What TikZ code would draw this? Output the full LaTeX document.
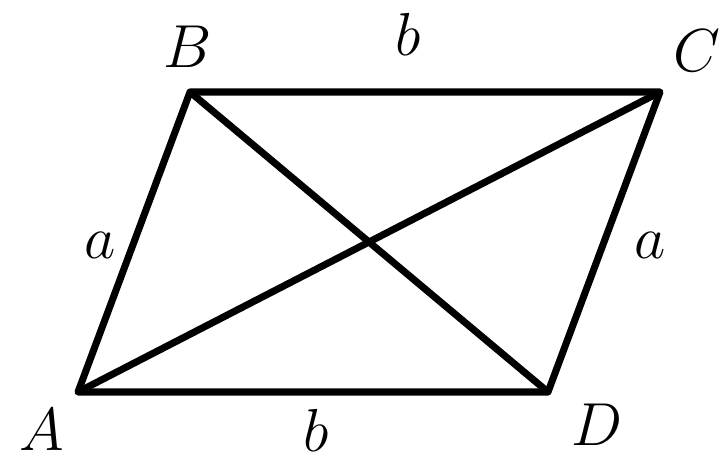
\documentclass[tikz,border=0pt]{standalone}
\usepackage{amsmath}
\begin{document}
\begin{tikzpicture}[line width=2pt,line join=round,font=\fontsize{18}{21}\selectfont]
\useasboundingbox (0,0) rectangle (7.27,4.61);
\coordinate (A) at (.78,.69); \coordinate (B) at (1.90,3.69);
\coordinate (C) at (6.60,3.69); \coordinate (D) at (5.48,.69);
\draw (A)--(B)--(C)--(D)--cycle;
\draw (A)--(C); \draw (B)--(D);
\node (lA) at (.42,.31) {$A$}; \node (lB) at (1.88,4.14) {$B$};
\node (lC) at (6.97,4.10) {$C$}; \node (lD) at (5.97,.36) {$D$};
\node (ab) at (1.00,2.16) {$a$}; \node (acd) at (6.50,2.16) {$a$};
\node (bbc) at (4.08,4.27) {$b$}; \node (bad) at (3.16,.31) {$b$};
\end{tikzpicture}
\end{document}
